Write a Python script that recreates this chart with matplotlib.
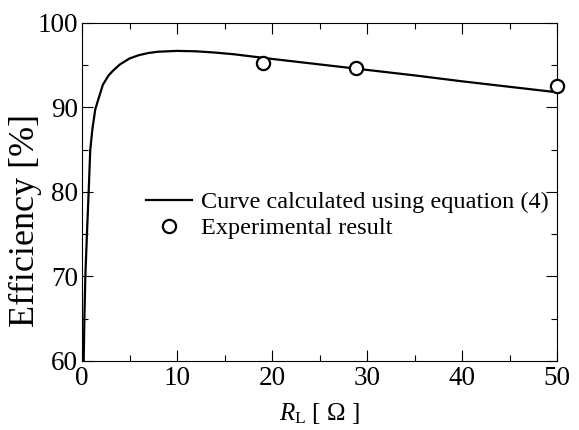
import matplotlib
matplotlib.use("Agg")
import matplotlib.pyplot as plt
from matplotlib.ticker import MultipleLocator

plt.rcParams['font.family'] = ['Liberation Serif', 'DejaVu Serif']
plt.rcParams['mathtext.fontset'] = 'custom'
plt.rcParams['mathtext.rm'] = 'Liberation Serif'
plt.rcParams['mathtext.it'] = 'Liberation Serif:italic'

# Calculated curve
curve_x = [0.18, 0.25, 0.35, 0.52, 0.7, 0.87, 1.1, 1.4, 1.7, 2.2, 2.8, 3.3, 4, 5, 6, 7, 8,
           10, 12, 14, 16, 20, 25, 30, 35, 40, 45, 50]
curve_y = [60, 65, 70, 75, 80, 85, 87.5, 89.8, 90.9, 92.7, 93.8, 94.4, 95.1, 95.8, 96.2,
           96.45, 96.6, 96.7, 96.65, 96.5, 96.3, 95.75, 95.1, 94.45, 93.8, 93.1, 92.45, 91.8]

# Experimental results
exp_x = [19.0, 28.8, 50.0]
exp_y = [95.25, 94.7, 92.6]

fig = plt.figure(figsize=(5.79, 4.30), dpi=100)
ax = fig.add_axes([82/579, 1-361/430, 475/579, 338/430])

ax.plot(curve_x, curve_y, color='black', lw=1.6, label='Curve calculated using equation (4)',
        solid_joinstyle='round')
ax.plot(exp_x, exp_y, 'o', markersize=9.5, markerfacecolor='white', markeredgecolor='black',
        markeredgewidth=1.6, label='Experimental result', clip_on=False, zorder=5)

ax.set_xlim(0, 50)
ax.set_ylim(60, 100)
ax.xaxis.set_major_locator(MultipleLocator(10))
ax.xaxis.set_minor_locator(MultipleLocator(5))
ax.yaxis.set_major_locator(MultipleLocator(10))
ax.yaxis.set_minor_locator(MultipleLocator(5))
ax.tick_params(which='both', direction='in', top=True, right=True, width=0.8, labelsize=19.5)
ax.tick_params(which='major', length=8)
ax.tick_params(which='minor', length=4.3)
ax.tick_params(axis='x', pad=3.5)
ax.tick_params(axis='y', pad=3)
for s in ax.spines.values():
    s.set_linewidth(0.8)

ax.set_xlabel(r'$R_{\mathrm{L}}$ [ Ω ]', fontsize=18, labelpad=7.5)
ax.set_ylabel('Efficiency [%]', fontsize=26)
ax.yaxis.set_label_coords(-0.084, 0.416)

ax.legend(loc='upper left', bbox_to_anchor=(146/579, 1-191/430), bbox_transform=fig.transFigure,
          frameon=False, fontsize=17.5, handlelength=1.9, handletextpad=0.35, borderpad=0,
          borderaxespad=0, labelspacing=0.18, numpoints=1)

fig.savefig('out.png', dpi=100)
